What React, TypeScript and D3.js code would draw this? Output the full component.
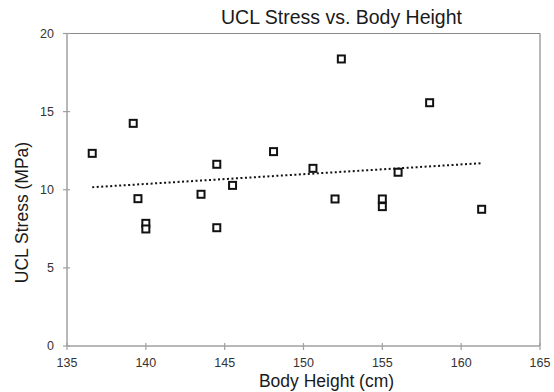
import React from "react";
import * as d3 from "d3";

const heights = [136.6, 139.2, 139.5, 140.0, 140.0, 143.5, 144.5, 144.5, 145.5, 148.1, 150.6, 152.0, 152.4, 155.0, 155.0, 156.0, 158.0, 161.3];
const stresses = [12.33, 14.25, 9.43, 7.85, 7.49, 9.71, 11.63, 7.57, 10.28, 12.44, 11.37, 9.41, 18.37, 9.41, 8.92, 11.12, 15.57, 8.75];
const trendX = [136.6, 161.3];
const trendY = [10.16, 11.7];
const xTicks = [135, 140, 145, 150, 155, 160, 165];
const yTicks = [0, 5, 10, 15, 20];

const W = 554, H = 392;
const L = 67, R = 540, T = 33.5, B = 346;

export default function App() {
  const x = d3.scaleLinear().domain([135, 165]).range([L, R]);
  const y = d3.scaleLinear().domain([0, 20]).range([B, T]);
  const line = d3.line<number>().x((_, i) => x(trendX[i])).y((d) => y(d));
  const font = "'Liberation Sans', Arial, Helvetica, sans-serif";
  return (
    <svg width={W} height={H} style={{ position: "absolute", left: 0, top: 0, background: "#fff" }} fontFamily={font}>
      <rect x={0} y={0} width={W} height={H} fill="#fff" />
      <line x1={L} x2={R} y1={T} y2={T} stroke="#8a8a8a" strokeWidth={1.2} />
      <line x1={R} x2={R} y1={T} y2={B} stroke="#8a8a8a" strokeWidth={1.2} />
      <line x1={L} x2={L} y1={T} y2={B} stroke="#a0a0a0" strokeWidth={1.5} />
      <line x1={L} x2={R} y1={B} y2={B} stroke="#a0a0a0" strokeWidth={1.5} />
      {yTicks.map((t) => (
        <g key={"y" + t}>
          <line x1={L - 4} x2={L + 3} y1={y(t)} y2={y(t)} stroke="#a0a0a0" strokeWidth={1.2} />
          <text x={L - 13} y={y(t)} dy="0.35em" textAnchor="end" fontSize={12.5} fill="#333">{t}</text>
        </g>
      ))}
      {xTicks.map((t) => (
        <g key={"x" + t}>
          <line x1={x(t)} x2={x(t)} y1={B - 3} y2={B + 4} stroke="#a0a0a0" strokeWidth={1.2} />
          <text x={x(t)} y={B + 17} dy="0.35em" textAnchor="middle" fontSize={12.5} fill="#333">{t}</text>
        </g>
      ))}
      <path d={line(trendY) || ""} fill="none" stroke="#111" strokeWidth={2} strokeDasharray="2,2.5" />
      {heights.map((h, i) => (
        <rect key={i} x={x(h) - 3.5} y={y(stresses[i]) - 3.5} width={7} height={7} fill="#fff" stroke="#111" strokeWidth={2} />
      ))}
      <text x={341.5} y={24} textAnchor="middle" fontSize={19.5} fill="#1a1a1a">UCL Stress vs. Body Height</text>
      <text x={326.5} y={386.5} textAnchor="middle" fontSize={17.5} fill="#1a1a1a">Body Height (cm)</text>
      <text transform={`translate(28,${212.5}) rotate(-90)`} textAnchor="middle" fontSize={17.5} fill="#1a1a1a">UCL Stress (MPa)</text>
    </svg>
  );
}
